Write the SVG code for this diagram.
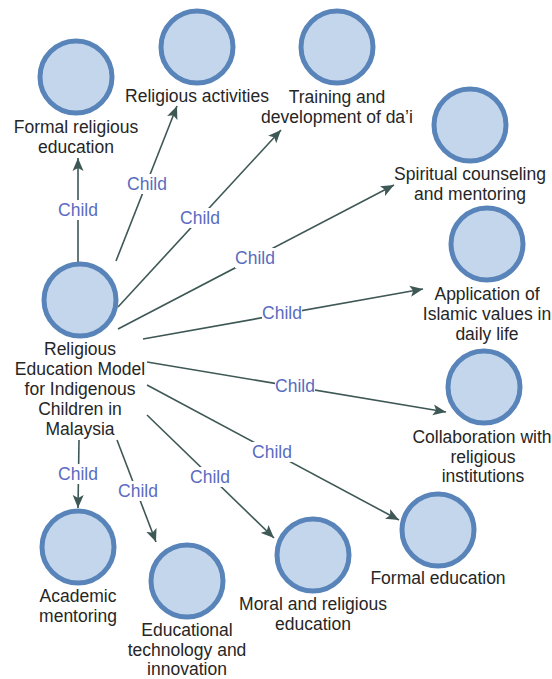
<svg xmlns="http://www.w3.org/2000/svg" width="552" height="679" viewBox="0 0 552 679">
<defs>
<style>
.node circle{fill:#c4d6ec;stroke:#5884b9;stroke-width:5}
.node text{font-family:"Liberation Sans",Arial,sans-serif;font-size:17.5px;fill:#262626;text-anchor:middle}
.edge line{stroke:#3e5856;stroke-width:1.6;fill:none}
.lbl rect{fill:#ffffff}
.lbl text{font-family:"Liberation Sans",Arial,sans-serif;font-size:17.5px;fill:#5a6cc0;text-anchor:middle}
</style>
<marker id="arr" markerUnits="userSpaceOnUse" markerWidth="14" markerHeight="12" viewBox="0 0 14 12" refX="13" refY="6" orient="auto">
<path d="M0,0.5 L13,6 L0,11.5 L3,6 z" fill="#3e5856"/>
</marker>
</defs>
<rect width="552" height="679" fill="#ffffff"/>
<g id="connectors">
<g class="edge">
<line x1="78" y1="262" x2="78" y2="158" marker-end="url(#arr)"/>
<line x1="116" y1="261" x2="177" y2="106" marker-end="url(#arr)"/>
<line x1="118" y1="307" x2="281" y2="130" marker-end="url(#arr)"/>
<line x1="118" y1="329" x2="394" y2="185" marker-end="url(#arr)"/>
<line x1="143" y1="339" x2="423" y2="289" marker-end="url(#arr)"/>
<line x1="147" y1="362" x2="446" y2="412" marker-end="url(#arr)"/>
<line x1="147" y1="385" x2="399" y2="520" marker-end="url(#arr)"/>
<line x1="147" y1="415" x2="274" y2="538" marker-end="url(#arr)"/>
<line x1="117" y1="440" x2="156" y2="542" marker-end="url(#arr)"/>
<line x1="79" y1="440" x2="78" y2="508" marker-end="url(#arr)"/>
</g>
<g class="lbl">
<rect x="58" y="200" width="40" height="20"/><text x="78" y="216">Child</text>
<rect x="127" y="174" width="40" height="20"/><text x="147" y="190">Child</text>
<rect x="180" y="208" width="40" height="20"/><text x="200" y="224">Child</text>
<rect x="235" y="248" width="40" height="20"/><text x="255" y="264">Child</text>
<rect x="262" y="303" width="40" height="20"/><text x="282" y="319">Child</text>
<rect x="275" y="376" width="40" height="20"/><text x="295" y="392">Child</text>
<rect x="252" y="442" width="40" height="20"/><text x="272" y="458">Child</text>
<rect x="190" y="467" width="40" height="20"/><text x="210" y="483">Child</text>
<rect x="118" y="481" width="40" height="20"/><text x="138" y="497">Child</text>
<rect x="58" y="464" width="40" height="20"/><text x="78" y="480">Child</text>
</g>
</g>
<g id="n-center" class="node"><circle cx="80" cy="300" r="36"/>
<text x="80" y="355">Religious</text><text x="80" y="375">Education Model</text><text x="80" y="395">for Indigenous</text><text x="80" y="415">Children in</text><text x="80" y="435">Malaysia</text></g>
<g id="n-formal-religious" class="node"><circle cx="76" cy="77" r="36"/>
<text x="76" y="133">Formal religious</text><text x="76" y="153">education</text></g>
<g id="n-religious-activities" class="node"><circle cx="197" cy="47" r="36"/>
<text x="197" y="102">Religious activities</text></g>
<g id="n-training" class="node"><circle cx="337" cy="47" r="36"/>
<text x="337" y="103">Training and</text><text x="337" y="123">development of da’i</text></g>
<g id="n-spiritual" class="node"><circle cx="470" cy="125" r="36"/>
<text x="470" y="180">Spiritual counseling</text><text x="470" y="200">and mentoring</text></g>
<g id="n-application" class="node"><circle cx="487" cy="244" r="36"/>
<text x="487" y="300">Application of</text><text x="487" y="320">Islamic values in</text><text x="487" y="340">daily life</text></g>
<g id="n-collaboration" class="node"><circle cx="484" cy="387" r="36"/>
<text x="482" y="443">Collaboration with</text><text x="483" y="463">religious</text><text x="483" y="482">institutions</text></g>
<g id="n-formal-education" class="node"><circle cx="438" cy="530" r="36"/>
<text x="438" y="584">Formal education</text></g>
<g id="n-moral" class="node"><circle cx="313" cy="555" r="36"/>
<text x="313" y="610">Moral and religious</text><text x="313" y="630">education</text></g>
<g id="n-edtech" class="node"><circle cx="187" cy="581" r="36"/>
<text x="187" y="636">Educational</text><text x="187" y="655.5">technology and</text><text x="187" y="675">innovation</text></g>
<g id="n-academic" class="node"><circle cx="78" cy="547" r="36"/>
<text x="78" y="602">Academic</text><text x="78" y="622">mentoring</text></g>
</svg>
